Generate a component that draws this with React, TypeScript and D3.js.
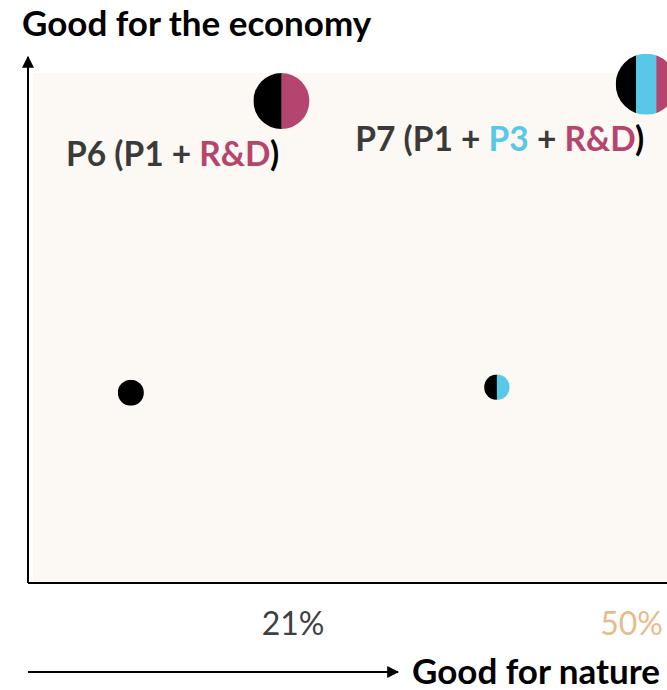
import React from "react";
import * as d3 from "d3";

const W = 667;
const H = 690;

// Points: nature (%), economy (arbitrary 0-100), component colours
const pointNames = ["P1", "P1 + P3", "P6", "P7"];
const natureValues = [8.4, 38.3, 20.7, 50.5];
const economyValues = [37.3, 38.4, 94.5, 97.8];
const pointRadius = [13, 12.7, 28, 30.5];
const pointParts: string[][] = [
  ["P1"],
  ["P1", "P3"],
  ["P1", "R&D"],
  ["P1", "P3", "R&D"],
];
const partColors: Record<string, string> = {
  P1: "#000000",
  P3: "#57C8E8",
  "R&D": "#B5446E",
};

const tickValues = [21, 50];
const tickLabels = ["21%", "50%"];
const tickColors = ["#404040", "#E7BC8C"];

const labelPoints = ["P6", "P7"];
const labelParts: string[][][] = [
  [["P6 (P1 + ", "#3A3A3A"], ["R&D", "#B5446E"], [")", "#000"]],
  [["P7 (P1 + ", "#3A3A3A"], ["P3", "#57C8E8"], [" + ", "#3A3A3A"], ["R&D", "#B5446E"], [")", "#000"]],
] as any;

const FONT = "Lato, 'Open Sans', sans-serif";

export default function App() {
  const left = 28;
  const right = 667;
  const top = 73;
  const bottom = 583;
  const x = d3.scaleLinear().domain([0, 52.2]).range([left, right]);
  const y = d3.scaleLinear().domain([0, 100]).range([bottom, top]);

  return (
    <svg width={W} height={H} style={{ position: "absolute", left: 0, top: 0 }}>
      <defs>
        {pointNames.map((n, i) => (
          <clipPath id={`clip${i}`} key={n}>
            <circle cx={x(natureValues[i])} cy={y(economyValues[i])} r={pointRadius[i]} />
          </clipPath>
        ))}
        <marker id="arrow" viewBox="0 0 10 10" refX="9" refY="5" markerWidth="6" markerHeight="6" orient="auto">
          <path d="M0,0 L10,5 L0,10 z" fill="#000" />
        </marker>
      </defs>
      <rect x={left + 5} y={top} width={right - left - 5} height={bottom - top} fill="#FCF8F3" />
      {/* axes */}
      <line x1={left} y1={bottom} x2={right} y2={bottom} stroke="#000" strokeWidth={2} />
      <line x1={left} y1={bottom} x2={left} y2={57} stroke="#000" strokeWidth={2} markerEnd="url(#arrow)" />
      <text x={22} y={36} fontFamily={FONT} fontWeight={700} fontSize={35} fill="#000">
        Good for the economy
      </text>
      {/* bottom arrow */}
      <line x1={left} y1={672} x2={398} y2={672} stroke="#000" strokeWidth={2} markerEnd="url(#arrow)" />
      <text x={412} y={684} fontFamily={FONT} fontWeight={700} fontSize={35} fill="#000">
        Good for nature
      </text>
      {/* ticks */}
      {tickValues.map((v, i) => (
        <text
          key={v}
          x={i === tickValues.length - 1 ? W - 4 : x(v) + 8}
          y={635}
          textAnchor={i === tickValues.length - 1 ? "end" : "middle"}
          fontFamily={FONT}
          fontSize={32}
          fill={tickColors[i]}
        >
          {tickLabels[i]}
        </text>
      ))}
      {/* points */}
      {pointNames.map((n, i) => {
        const cx = x(natureValues[i]);
        const cy = y(economyValues[i]);
        const r = pointRadius[i];
        const parts = pointParts[i];
        const band = d3.scaleBand().domain(parts).range([cx - r, cx + r]);
        return (
          <g key={n} clipPath={`url(#clip${i})`}>
            {parts.map((p) => (
              <rect key={p} x={band(p)!} y={cy - r} width={band.bandwidth() + 0.5} height={2 * r} fill={partColors[p]} />
            ))}
          </g>
        );
      })}
      {/* labels */}
      {labelPoints.map((lp, k) => {
        const i = pointNames.indexOf(lp);
        const cx = x(natureValues[i]);
        const cy = y(economyValues[i]);
        const pos = k === 0 ? { x: cx - 215.5, y: cy + 65 } : { x: cx - 291, y: cy + 67 };
        return (
          <text key={lp} x={pos.x} y={pos.y} fontFamily={FONT} fontWeight={700} fontSize={33.5}>
            {labelParts[k].map((p: any, j: number) => (
              <tspan key={j} fill={p[1]} xmlSpace="preserve">
                {p[0]}
              </tspan>
            ))}
          </text>
        );
      })}
    </svg>
  );
}
